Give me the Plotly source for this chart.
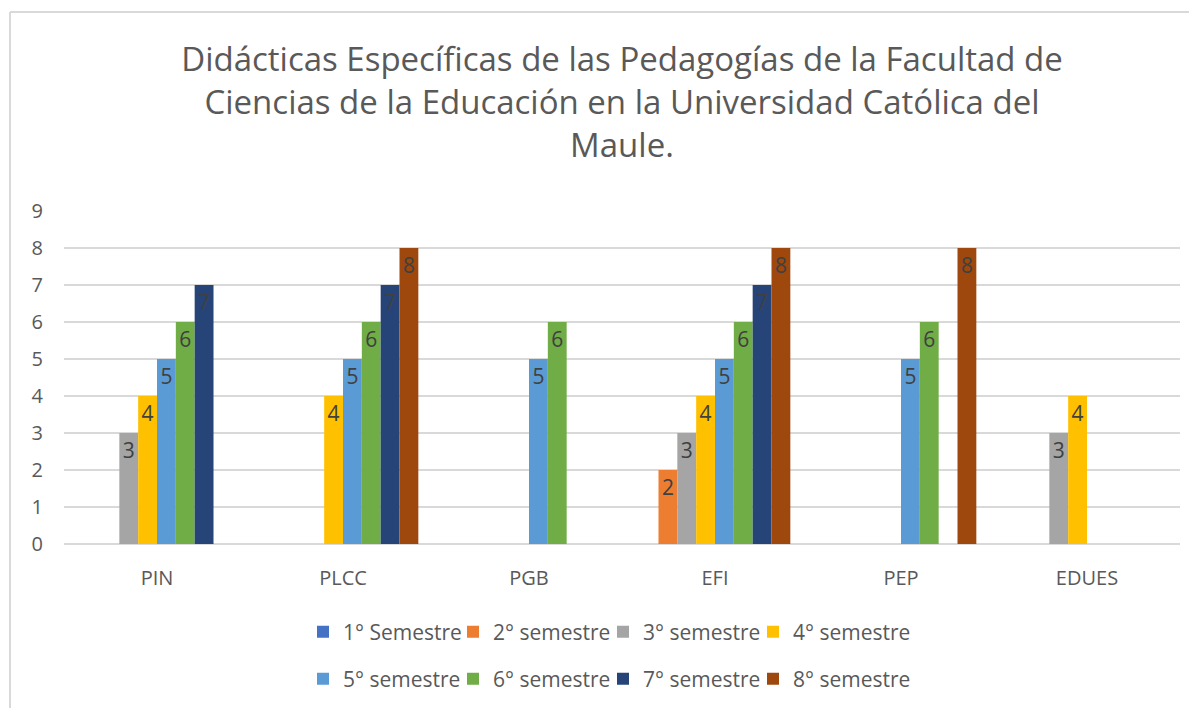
import plotly.graph_objects as go

categories = ["PIN", "PLCC", "PGB", "EFI", "PEP", "EDUES"]
series_names = ["1° Semestre", "2° semestre", "3° semestre", "4° semestre",
                "5° semestre", "6° semestre", "7° semestre", "8° semestre"]
colors = ["#4472C4", "#ED7D31", "#A5A5A5", "#FFC000",
          "#5B9BD5", "#70AD47", "#264478", "#9E480E"]

s1 = [None, None, None, None, None, None]
s2 = [None, None, None, 2, None, None]
s3 = [3, None, None, 3, None, 3]
s4 = [4, 4, None, 4, None, 4]
s5 = [5, 5, 5, 5, 5, None]
s6 = [6, 6, 6, 6, 6, None]
s7 = [7, 7, None, 7, None, None]
s8 = [None, 8, None, 8, 8, None]
series_values = [s1, s2, s3, s4, s5, s6, s7, s8]

y_ticks = list(range(0, 10))

FONT = "Open Sans"
TXT = "#595959"

# The page body adds an 8px margin, so figure pixels = page pixels - 8
OFF = 8
W, H = 1197 - OFF, 708 - OFF
L, R, T, B = 64 - OFF, 17, 211 - OFF, 164
pw = W - L - R
ph = H - T - B


def px_x(x):
    return (x - OFF - L) / pw


def px_y(y):
    return (H - B - (y - OFF)) / ph


fig = go.Figure()
for i, (name, vals, col) in enumerate(zip(series_names, series_values, colors)):
    fig.add_trace(go.Bar(
        x=categories, y=vals, name=name,
        marker=dict(color=col, line=dict(width=0)),
        text=[("" if v is None else str(v)) for v in vals],
        textposition="inside", insidetextanchor="end",
        constraintext="none", textangle=0,
        textfont=dict(family=FONT, size=21, color="#404040"),
        legend="legend" if i < 4 else "legend2",
        legendrank=i + 1,
        hoverinfo="skip",
    ))

# invisible spacer entries so the last legend label in each row is not clipped
for lg in ["legend", "legend2"]:
    fig.add_trace(go.Scatter(
        x=[None], y=[None], mode="markers", name=" ",
        marker=dict(opacity=0, color="rgba(0,0,0,0)"),
        legend=lg, legendrank=100, showlegend=True, hoverinfo="skip",
    ))

fig.update_layout(
    width=W, height=H,
    margin=dict(l=L, r=R, t=T, b=B, autoexpand=False),
    paper_bgcolor="white", plot_bgcolor="white",
    barmode="group", bargap=0.19, bargroupgap=0,
    title=dict(
        text="Didácticas Específicas de las Pedagogías de la Facultad de<br>"
             "Ciencias de la Educación en la Universidad Católica del<br>Maule.",
        x=0.5, xanchor="center", xref="paper",
        y=1 - 63 / H, yanchor="top", yref="container",
        font=dict(family=FONT, size=33, color=TXT),
    ),
    font=dict(family=FONT, color=TXT),
    xaxis=dict(
        categoryorder="array", categoryarray=categories,
        showgrid=False, showline=False, zeroline=False,
        ticks="", ticklabelstandoff=20,
        tickfont=dict(family=FONT, size=20, color=TXT),
    ),
    yaxis=dict(
        range=[0, 9], tickvals=y_ticks, ticktext=[str(v) for v in y_ticks],
        showgrid=True, gridcolor="#D9D9D9", gridwidth=1.5,
        zeroline=True, zerolinecolor="#D9D9D9", zerolinewidth=1.5,
        showline=False, ticks="", ticklabelstandoff=20,
        tickfont=dict(family=FONT, size=20, color=TXT),
    ),
    legend=dict(
        orientation="h", x=px_x(303), xanchor="left",
        y=px_y(632), yanchor="middle",
        entrywidth=105, entrywidthmode="pixels",
        font=dict(family=FONT, size=21, color=TXT),
        bgcolor="rgba(0,0,0,0)", traceorder="normal",
    ),
    legend2=dict(
        orientation="h", x=px_x(303), xanchor="left",
        y=px_y(679), yanchor="middle",
        entrywidth=105, entrywidthmode="pixels",
        font=dict(family=FONT, size=21, color=TXT),
        bgcolor="rgba(0,0,0,0)", traceorder="normal",
    ),
    shapes=[
        dict(type="line", xref="paper", yref="paper",
             x0=px_x(10), x1=px_x(1210), y0=px_y(12), y1=px_y(12),
             line=dict(color="#D9D9D9", width=2)),
        dict(type="line", xref="paper", yref="paper",
             x0=px_x(10), x1=px_x(10), y0=px_y(12), y1=px_y(720),
             line=dict(color="#D9D9D9", width=2)),
    ],
)

fig.write_html("out.html")
